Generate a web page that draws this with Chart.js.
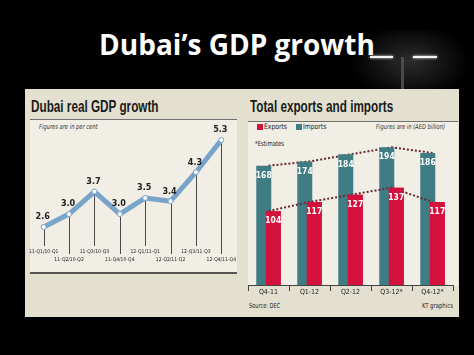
<!DOCTYPE html>
<html><head><meta charset="utf-8">
<script src="https://cdn.jsdelivr.net/npm/chart.js@4"></script>
<style>
html,body{margin:0;padding:0;}
body{width:474px;height:355px;background:#000;position:relative;overflow:hidden;font-family:'DejaVu Sans Condensed',sans-serif;}
.abs{position:absolute;white-space:nowrap;}
.cond{transform:scaleX(0.69);transform-origin:0 0;}
.sm{font-family:'DejaVu Sans Condensed',sans-serif;color:#222;}
#title{left:0;top:30px;width:474px;text-align:center;color:#fff;font:bold 28px/28px 'Open Sans',sans-serif;}
</style>
</head><body>
<div class="abs" style="left:350px;top:30px;width:120px;height:70px;background:radial-gradient(ellipse at 50% 45%,rgba(200,200,200,0.22),rgba(0,0,0,0) 70%);"></div>
<div class="abs" style="left:401px;top:57px;width:3px;height:32px;background:#4a4a4a;"></div>
<div class="abs" style="left:370px;top:56px;width:23px;height:2px;background:#f4f4f4;box-shadow:0 0 3px #fff;"></div>
<div class="abs" style="left:413px;top:56px;width:24px;height:2px;background:#f4f4f4;box-shadow:0 0 3px #fff;"></div>
<div id="title" class="abs">Dubai’s GDP growth</div>

<div class="abs" style="left:25px;top:89px;width:434px;height:228px;background:#e4e0cf;"></div>
<!-- left panel -->
<div class="abs" style="left:30px;top:120px;width:207px;height:152px;background:#f1eee6;"></div>
<div class="abs" style="left:30px;top:119px;width:207px;height:1px;background:#6f6f6f;"></div>
<div class="abs" style="left:30px;top:272px;width:207px;height:2px;background:#555;"></div>
<div class="abs cond" style="left:31px;top:98px;font:bold 17px/17px 'Liberation Sans',Arial,sans-serif;color:#1a1a1a;">Dubai real GDP growth</div>
<div class="abs sm" style="left:39px;top:123px;font-size:7px;line-height:8px;font-style:italic;color:#333;transform:scaleX(0.82);transform-origin:0 0;">Figures are in per cent</div>
<canvas id="gdp" width="214" height="150" style="position:absolute;left:25px;top:120px;"></canvas>

<!-- right panel -->
<div class="abs" style="left:248px;top:122px;width:210px;height:164px;background:#f1eee6;"></div>
<div class="abs" style="left:248px;top:121px;width:210px;height:1px;background:#6f6f6f;"></div>
<div class="abs cond" style="left:250px;top:98px;font:bold 17px/17px 'Liberation Sans',Arial,sans-serif;color:#1a1a1a;">Total exports and imports</div>
<div class="abs" style="left:257px;top:124px;width:6px;height:6px;background:#d4103c;"></div>
<div class="abs sm" style="left:264px;top:123px;font-size:7.5px;line-height:8px;transform:scaleX(0.9);transform-origin:0 0;">Exports</div>
<div class="abs" style="left:296px;top:124px;width:6px;height:6px;background:#3f7c84;"></div>
<div class="abs sm" style="left:303px;top:123px;font-size:7.5px;line-height:8px;transform:scaleX(0.9);transform-origin:0 0;">Imports</div>
<div class="abs sm" style="left:325px;top:123px;width:120px;text-align:right;font-size:7px;line-height:8px;font-style:italic;color:#333;transform:scaleX(0.82);transform-origin:100% 0;">Figures are in (AED billion)</div>
<div class="abs sm" style="left:255px;top:140px;font-size:7px;line-height:8px;transform:scaleX(0.85);transform-origin:0 0;">*Estimates</div>
<canvas id="trade" width="217" height="180" style="position:absolute;left:242px;top:122px;"></canvas>
<div class="abs sm" style="left:249px;top:302px;font-size:7px;line-height:8px;transform:scaleX(0.8);transform-origin:0 0;">Source: DEC</div>
<div class="abs sm" style="left:373px;top:302px;width:80px;text-align:right;font-size:7px;line-height:8px;transform:scaleX(0.85);transform-origin:100% 0;">KT graphics</div>

<script>
// ---- data ----
const gdpLabels = ['11-Q1/10-Q1','11-Q2/10-Q2','11-Q3/10-Q3','11-Q4/10-Q4','12-Q1/11-Q1','12-Q2/11-Q2','12-Q3/11-Q3','12-Q4/11-Q4'];
const gdpGrowth = [2.6, 3.0, 3.7, 3.0, 3.5, 3.4, 4.3, 5.3];
const tradeQuarters = ['Q4-11', 'Q1-12', 'Q2-12', 'Q3-12*', 'Q4-12*'];
const exportsAED = [104, 117, 127, 137, 117];
const importsAED = [168, 174, 184, 194, 186];

const cond = "'DejaVu Sans Condensed',sans-serif";

const dropLines = {
  id: 'dropLines',
  beforeDatasetsDraw(chart) {
    const ctx = chart.ctx, area = chart.chartArea;
    const meta = chart.getDatasetMeta(0);
    ctx.save();
    ctx.strokeStyle = '#4a4a4a';
    ctx.lineWidth = 1;
    meta.data.forEach((pt, i) => {
      const x = Math.round(pt.x) + 0.5;
      ctx.beginPath();
      ctx.moveTo(x, pt.y);
      ctx.lineTo(x, area.bottom + (i % 2 ? 9 : 1));
      ctx.stroke();
    });
    ctx.restore();
  }
};

const pointLabels = {
  id: 'pointLabels',
  afterDatasetsDraw(chart) {
    const ctx = chart.ctx;
    const meta = chart.getDatasetMeta(0);
    const vals = chart.data.datasets[0].data;
    ctx.save();
    ctx.font = 'bold 9px ' + cond;
    ctx.fillStyle = '#222';
    ctx.textAlign = 'center';
    ctx.textBaseline = 'middle';
    meta.data.forEach((pt, i) => {
      ctx.fillText(vals[i].toFixed(1), pt.x - 1, pt.y - 10);
    });
    ctx.restore();
  }
};

// exports bars sit in front of imports bars: redraw them on top, then write values
const barFront = {
  id: 'barFront',
  afterDatasetsDraw(chart) {
    const ctx = chart.ctx;
    const area = chart.chartArea;
    ctx.save();
    ctx.beginPath();
    ctx.rect(area.left, area.top, area.right - area.left, area.bottom - area.top);
    ctx.clip();
    chart.data.datasets.forEach((ds, di) => {
      if (ds.front) chart.getDatasetMeta(di).data.forEach(el => el.draw(ctx));
    });
    ctx.restore();
    ctx.save();
    ctx.font = 'bold 8.5px ' + cond;
    ctx.fillStyle = '#fff';
    ctx.textAlign = 'center';
    ctx.textBaseline = 'middle';
    chart.data.datasets.forEach((ds, di) => {
      if (ds.type !== 'bar') return;
      chart.getDatasetMeta(di).data.forEach((el, i) => {
        ctx.fillText(String(ds.data[i]), el.x, el.y + 10);
      });
    });
    ctx.restore();
  }
};

new Chart(document.getElementById('gdp'), {
  type: 'line',
  data: {
    labels: gdpLabels.map((l, i) => i % 2 ? ['', l] : l),
    datasets: [{
      data: gdpGrowth,
      borderColor: '#79a4ca',
      borderWidth: 5,
      borderJoinStyle: 'round',
      borderCapStyle: 'round',
      tension: 0,
      pointRadius: 2.5,
      pointBackgroundColor: '#ffffff',
      pointBorderColor: '#79a4ca',
      pointBorderWidth: 1
    }]
  },
  options: {
    responsive: false,
    animation: false,
    layout: { padding: { left: 6, right: 3, top: 10, bottom: 0 } },
    plugins: { legend: { display: false }, tooltip: { enabled: false } },
    scales: {
      y: { display: false, min: 2.04, max: 5.61 },
      x: {
        offset: true,
        grid: { display: false, drawTicks: false },
        border: { display: false },
        ticks: { padding: 2, color: '#222', autoSkip: false, maxRotation: 0, minRotation: 0,
                 font: { family: cond, size: 5, lineHeight: 1.7 } },
        afterFit: s => { s.height = 25; }
      }
    }
  },
  plugins: [dropLines, pointLabels]
});

new Chart(document.getElementById('trade'), {
  type: 'bar',
  data: {
    labels: tradeQuarters,
    datasets: [
      { type: 'bar', label: 'Imports', data: importsAED, backgroundColor: '#3f7c84', order: 0,
        categoryPercentage: 0.463, barPercentage: 1.58 },
      { type: 'bar', label: 'Exports', data: exportsAED, backgroundColor: '#d4103c', order: 1, front: true,
        categoryPercentage: 0.463, barPercentage: 1.58 },
      { type: 'line', label: 'Imports trend', data: importsAED, borderColor: '#6b2632', borderWidth: 2,
        borderDash: [2, 2], pointRadius: 0, order: 5 },
      { type: 'line', label: 'Exports trend', data: exportsAED, borderColor: '#6b2632', borderWidth: 2,
        borderDash: [2, 2], pointRadius: 0, order: -1 }
    ]
  },
  options: {
    responsive: false,
    animation: false,
    layout: { padding: { left: 6, right: 6, top: 10, bottom: 0 } },
    plugins: { legend: { display: false }, tooltip: { enabled: false } },
    scales: {
      x: {
        offset: true,
        grid: { offset: true, drawOnChartArea: false, drawTicks: true, tickLength: 6, color: '#444', lineWidth: 1 },
        border: { display: true, color: '#444', width: 1 },
        ticks: { padding: -3, color: '#222', font: { family: cond, size: 7 } },
        afterFit: s => { s.height = 17; }
      },
      y: { display: false, min: 0, max: 215.5 }
    }
  },
  plugins: [barFront]
});
</script>
</body></html>
